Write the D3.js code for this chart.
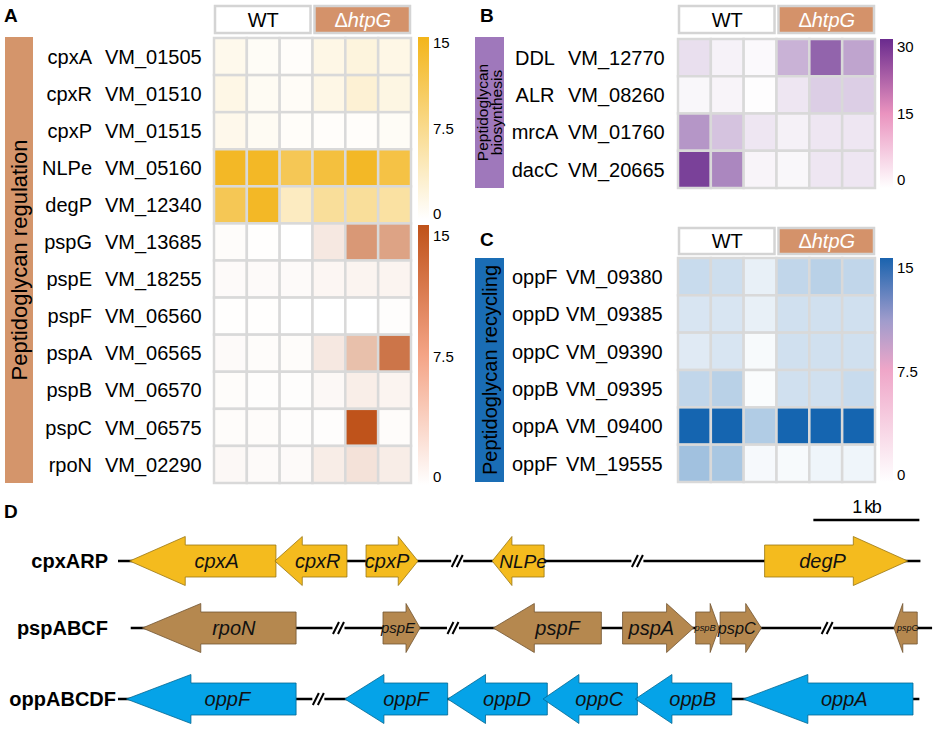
<!DOCTYPE html>
<html><head><meta charset="utf-8">
<script src="https://cdn.jsdelivr.net/npm/d3@7"></script>
<style>body{margin:0;background:#fff} svg{font-family:"Liberation Sans",Arial,Helvetica,sans-serif}</style>
</head><body><svg id="c" width="935" height="729"></svg>
<script>
// ---------------- data ----------------
const columns = ["WT_1","WT_2","WT_3","htpG_1","htpG_2","htpG_3"];
const groupLabels = ["WT","ΔhtpG"];

const genesA1 = ["cpxA","cpxR","cpxP","NLPe","degP"];
const idsA1 = ["VM_01505","VM_01510","VM_01515","VM_05160","VM_12340"];
const valuesA1 = [
  [1.2, 0.6, 0.3, 1.6, 2.2, 1.6],
  [1.6, 0.8, 0.5, 1.6, 2.8, 1.8],
  [1.3, 0.8, 0.4, 0.3, 0.3, 0.6],
  [14, 14, 11, 12.5, 14, 12],
  [11, 14, 4, 6.5, 6.5, 6]
];
const genesA2 = ["pspG","pspE","pspF","pspA","pspB","pspC","rpoN"];
const idsA2 = ["VM_13685","VM_18255","VM_06560","VM_06565","VM_06570","VM_06575","VM_02290"];
const valuesA2 = [
  [0.3, 0.1, 0.0, 2.0, 9.0, 8.0],
  [0.4, 0.4, 0.4, 0.8, 1.0, 1.0],
  [0.1, 0.1, 0.0, 0.0, 0.0, 0.2],
  [0.4, 0.3, 0.3, 2.0, 5.5, 12],
  [0.3, 0.2, 0.2, 0.6, 1.5, 1.0],
  [0.3, 0.3, 0.2, 0.2, 15, 0.3],
  [0.6, 0.4, 0.4, 1.6, 2.5, 1.6]
];
const genesB = ["DDL","ALR","mrcA","dacC"];
const idsB = ["VM_12770","VM_08260","VM_01760","VM_20665"];
const valuesB = [
  [4.5, 1.8, 0.8, 11, 22, 13],
  [1.2, 1.5, 0.3, 3.5, 7, 7],
  [15, 8.5, 3.5, 2, 3.5, 3.5],
  [27, 17, 1.5, 1.2, 3.5, 3.5]
];
const genesC = ["oppF","oppD","oppC","oppB","oppA","oppF"];
const idsC = ["VM_09380","VM_09385","VM_09390","VM_09395","VM_09400","VM_19555"];
const valuesC = [
  [3.5, 3.2, 1.5, 4, 4.5, 4],
  [2.5, 2.5, 1.5, 3, 3, 3],
  [2, 2.5, 0.5, 3, 3, 3],
  [4, 4.5, 0.3, 3, 3, 3.5],
  [15, 15, 5, 15, 15, 15],
  [6, 5.5, 0.6, 0.5, 1, 1]
];
const ticksA = [0, 7.5, 15];
const ticksB = [0, 15, 30];
const ticksC = [0, 7.5, 15];

// panel D (positions in kb)
const operonNames = ["cpxARP","pspABCF","oppABCDF"];
const operonSpans = [[0, 7.57],[0.12, 7.68],[0, 7.56]];
const geneNamesD  = ["cpxA","cpxR","cpxP","NLPe","degP",
                     "rpoN","pspE","pspF","pspA","pspB","pspC","pspG",
                     "oppF","oppF","oppD","oppC","oppB","oppA"];
const geneOperonD = [0,0,0,0,0, 1,1,1,1,1,1,1, 2,2,2,2,2,2];
const geneStartD  = [0.11,1.48,2.34,3.53,6.10, 0.23,2.50,3.54,4.76,5.45,5.68,7.32, 0.08,2.14,3.11,4.01,4.88,5.90];
const geneEndD    = [1.49,2.16,2.83,4.02,7.45, 1.68,2.85,4.56,5.43,5.67,6.07,7.54, 1.68,3.11,4.05,4.90,5.79,7.50];
const geneStrandD = [-1,-1,1,-1,1, -1,1,-1,1,1,1,-1, -1,-1,-1,-1,-1,-1];
const breakOperonD = [0,0,1,1,1,2];
const breakPosD    = [3.20,4.90,2.08,3.16,6.69,1.89];
const scaleBarKb = [6.56, 7.56];

// ---------------- drawing ----------------
const svg = d3.select("#c");
const gridCol = "#d9d9d9";

function panelLetter(t, x, y){
  svg.append("text").attr("x",x).attr("y",y).text(t)
    .attr("font-weight","bold").attr("font-size",19).attr("fill","#000");
}

function header(x, y0, y1){
  const wt = [x(columns[0]), x(columns[2]) + x.bandwidth()];
  const ko = [x(columns[3]), x(columns[5]) + x.bandwidth()];
  svg.append("rect").attr("x",wt[0]+1).attr("y",y0).attr("width",wt[1]-wt[0]-3).attr("height",y1-y0)
    .attr("fill","#fff").attr("stroke","#d4d4d4").attr("stroke-width",2.5);
  svg.append("rect").attr("x",ko[0]+2).attr("y",y0).attr("width",ko[1]-ko[0]-3).attr("height",y1-y0)
    .attr("fill","#d4926a").attr("stroke","#d4d4d4").attr("stroke-width",2.5);
  svg.append("text").attr("x",(wt[0]+wt[1])/2).attr("y",(y0+y1)/2).attr("dy","0.36em")
    .attr("text-anchor","middle").attr("font-size",20).text(groupLabels[0]);
  const t = svg.append("text").attr("x",(ko[0]+ko[1])/2+1).attr("y",(y0+y1)/2).attr("dy","0.36em")
    .attr("text-anchor","middle").attr("font-size",20).attr("fill","#fff");
  t.append("tspan").text(groupLabels[1].slice(0,1));
  t.append("tspan").attr("font-style","italic").text(groupLabels[1].slice(1));
}

function heat(x, y, ids, values, color){
  const g = svg.append("g");
  ids.forEach((id,i)=>{
    columns.forEach((c,j)=>{
      g.append("rect").attr("x",x(c)).attr("y",y(id)).attr("width",x.bandwidth()).attr("height",y.bandwidth())
        .attr("fill",color(values[i][j])).attr("stroke",gridCol).attr("stroke-width",2.5);
    });
  });
}

function rowLabels(y, ids, genes, geneX, anchor, idX){
  ids.forEach((id,i)=>{
    const cy = y(id) + y.bandwidth()/2;
    svg.append("text").attr("x",geneX).attr("y",cy).attr("dy","0.36em").attr("text-anchor",anchor)
      .attr("font-size",20).text(genes[i]);
    svg.append("text").attr("x",idX).attr("y",cy).attr("dy","0.36em")
      .attr("font-size",20).text(id);
  });
}

let gradId = 0;
function legend(x0, x1, y0, y1, stops, scale, ticks, labelX){
  const id = "g" + (gradId++);
  const lg = svg.append("defs").append("linearGradient").attr("id",id)
    .attr("x1",0).attr("y1",1).attr("x2",0).attr("y2",0);
  stops.forEach(s=> lg.append("stop").attr("offset",s[0]).attr("stop-color",s[1]));
  svg.append("rect").attr("x",x0).attr("y",y0).attr("width",x1-x0).attr("height",y1-y0)
    .attr("fill",`url(#${id})`);
  ticks.forEach(t=>{
    svg.append("text").attr("x",labelX).attr("y",scale(t)).attr("dy","0.36em")
      .attr("font-size",15).text(t);
  });
}

function sideBar(x0, x1, y0, y1, fill, lines, fs, lineGap){
  svg.append("rect").attr("x",x0).attr("y",y0).attr("width",x1-x0).attr("height",y1-y0).attr("fill",fill);
  const cx = (x0+x1)/2, cy = (y0+y1)/2;
  const t = svg.append("text").attr("transform",`translate(${cx},${cy}) rotate(-90)`)
    .attr("text-anchor","middle").attr("font-size",fs).attr("fill","#000");
  const n = lines.length;
  lines.forEach((l,i)=>{
    t.append("tspan").attr("x",0).attr("y",(i-(n-1)/2)*lineGap).attr("dy","0.36em").text(l);
  });
}

// ----- Panel A -----
panelLetter("A", 4, 22);
const xA = d3.scaleBand().domain(columns).range([214, 411]);
const yA = d3.scaleBand().domain(idsA1.concat(idsA2)).range([38, 483]);
header(xA, 6, 33);
sideBar(5, 33, 37, 483, "#d4956b", ["Peptidoglycan regulation"], 22, 0);
const colYellow = d3.scaleLinear().domain([0,15]).range(["#ffffff","#f2b317"]).clamp(true);
const colOrange = d3.scaleLinear().domain([0,15]).range(["#ffffff","#bf531b"]).clamp(true);
heat(xA, yA, idsA1, valuesA1, colYellow);
heat(xA, yA, idsA2, valuesA2, colOrange);
rowLabels(yA, idsA1, genesA1, 92, "end", 105);
rowLabels(yA, idsA2, genesA2, 92, "end", 105);
legend(418, 429, 37, 219, [[0,"#ffffff"],[1,"#f3b51a"]],
  d3.scaleLinear().domain([0,15]).range([214,43]), ticksA, 433);
legend(418, 429, 225, 485, [[0,"#ffffff"],[0.5,"#f4a486"],[1,"#bf521a"]],
  d3.scaleLinear().domain([0,15]).range([477,236]), ticksA, 433);

// ----- Panel B -----
panelLetter("B", 480, 22);
const xB = d3.scaleBand().domain(columns).range([678, 875]);
const yB = d3.scaleBand().domain(idsB).range([39, 188]);
header(xB, 6, 33);
sideBar(475, 504, 37, 188, "#9f78bb", ["Peptidoglycan","biosynthesis"], 15.5, 13.5);
const colPurple = d3.scaleLinear().domain([0,30]).range(["#ffffff","#6b2c8e"]).clamp(true);
heat(xB, yB, idsB, valuesB, colPurple);
rowLabels(yB, idsB, genesB, 535, "middle", 568);
legend(880, 893, 39, 188, [[0,"#ffffff"],[0.5,"#ea93bf"],[1,"#6a2b8e"]],
  d3.scaleLinear().domain([0,30]).range([180,47]), ticksB, 897);

// ----- Panel C -----
panelLetter("C", 480, 246);
const xC = d3.scaleBand().domain(columns).range([678, 875]);
const yC = d3.scaleBand().domain(idsC).range([258, 482]);
header(xC, 228, 254);
sideBar(475, 504, 258, 482, "#1a6db5", ["Peptidoglycan recycling"], 20, 0);
const colBlue = d3.scaleLinear().domain([0,15]).range(["#ffffff","#1565b0"]).clamp(true);
heat(xC, yC, idsC, valuesC, colBlue);
rowLabels(yC, idsC, genesC, 512, "start", 566);
legend(880, 893, 258, 482, [[0,"#ffffff"],[0.5,"#efa6c8"],[0.72,"#a09ccc"],[1,"#1a63ae"]],
  d3.scaleLinear().domain([0,15]).range([475,268]), ticksC, 897);

// ----- Panel D -----
panelLetter("D", 4, 518);
const xD = d3.scaleLinear().domain([0, 1]).range([118, 224]);
const rowY = [561, 628, 699];
const rowLabelX = [108, 108, 116];
const fills = ["#f4bb1e", "#b5884f", "#05a3e8"];
const bodyH = 16, headH = 24.5;

// scale bar
svg.append("line").attr("x1",xD(scaleBarKb[0])).attr("x2",xD(scaleBarKb[1])).attr("y1",520).attr("y2",520)
  .attr("stroke","#000").attr("stroke-width",2.5);
svg.append("text").attr("x",(xD(scaleBarKb[0])+xD(scaleBarKb[1]))/2).attr("y",513)
  .attr("text-anchor","middle").attr("font-size",18).text("1 kb").attr("letter-spacing",-1.5);

operonNames.forEach((n,i)=>{
  svg.append("line").attr("x1",xD(operonSpans[i][0])).attr("x2",xD(operonSpans[i][1]))
    .attr("y1",rowY[i]).attr("y2",rowY[i]).attr("stroke","#000").attr("stroke-width",2.5);
  svg.append("text").attr("x",rowLabelX[i]).attr("y",rowY[i]).attr("dy","0.36em").attr("text-anchor","end")
    .attr("font-weight","bold").attr("font-size",20).text(n);
});

breakPosD.forEach((p,i)=>{
  const cx = xD(p), cy = rowY[breakOperonD[i]];
  svg.append("rect").attr("x",cx-6).attr("y",cy-2).attr("width",12).attr("height",4).attr("fill","#fff");
  [-2.5, 2.5].forEach(o=>{
    svg.append("line").attr("x1",cx+o-3).attr("y1",cy+6).attr("x2",cx+o+3).attr("y2",cy-6)
      .attr("stroke","#000").attr("stroke-width",2);
  });
});

geneNamesD.forEach((name,i)=>{
  const op = geneOperonD[i], y = rowY[op];
  const s = xD(geneStartD[i]), e = xD(geneEndD[i]);
  const len = e - s, h = 0.38*len;
  let pts;
  if (geneStrandD[i] > 0){
    pts = [[s,y-bodyH],[e-h,y-bodyH],[e-h,y-headH],[e,y],[e-h,y+headH],[e-h,y+bodyH],[s,y+bodyH]];
  } else {
    pts = [[e,y-bodyH],[s+h,y-bodyH],[s+h,y-headH],[s,y],[s+h,y+headH],[s+h,y+bodyH],[e,y+bodyH]];
  }
  const fill = fills[op];
  svg.append("path").attr("d", d3.line()(pts) + "Z").attr("fill",fill)
    .attr("stroke", d3.color(fill).darker(1.3)).attr("stroke-width",0.8);
  const cx = (s+e)/2 + geneStrandD[i]*(-h*0.25);
  const t = svg.append("text").attr("x",cx).attr("y",y).attr("dy","0.36em").attr("text-anchor","middle")
    .attr("font-style","italic").attr("font-size",20).attr("fill","#111").text(name);
  const w = t.node().getComputedTextLength();
  if (w > len*0.92) t.attr("font-size", 20*len*0.92/w);
});
</script></body></html>
